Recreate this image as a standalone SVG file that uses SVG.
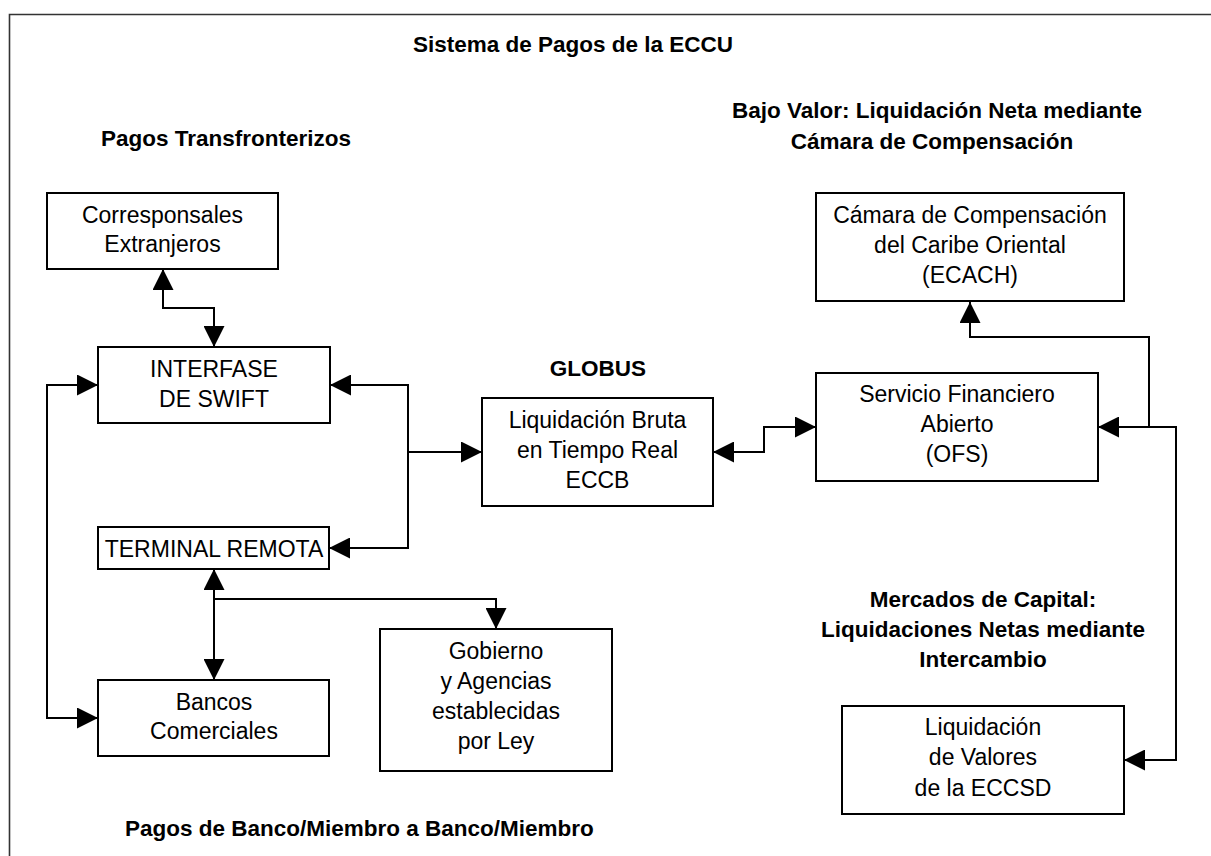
<svg xmlns="http://www.w3.org/2000/svg" width="1211" height="856" viewBox="0 0 1211 856">
<style>
.bg{fill:#ffffff}
.frame{fill:none;stroke:#333333;stroke-width:1.6}
.box{fill:#ffffff;stroke:#000000;stroke-width:2}
.t{font-family:"Liberation Sans",Arial,sans-serif;font-size:23px;fill:#000000;text-anchor:middle}
.h{font-family:"Liberation Sans",Arial,sans-serif;font-size:22.5px;font-weight:bold;fill:#000000;text-anchor:middle}
.c{fill:none;stroke:#000000;stroke-width:2;marker-end:url(#ah)}
.cb{marker-start:url(#ah)}
</style>
<defs>
<marker id="ah" markerUnits="userSpaceOnUse" viewBox="0 0 21 21" refX="21" refY="10.5" markerWidth="21" markerHeight="21" orient="auto-start-reverse">
<path d="M0,0 L21,10.5 L0,21 Z" fill="#000000"/>
</marker>
</defs>
<rect class="bg" x="0" y="0" width="1211" height="856"/>
<path class="frame" d="M9.5,856 V14.5 H1211"/>

<g id="labels">
<text class="h" x="573" y="52">Sistema de Pagos de la ECCU</text>
<text class="h" x="226" y="146">Pagos Transfronterizos</text>
<text class="h" x="937" y="118">Bajo Valor: Liquidación Neta mediante</text>
<text class="h" x="932" y="149">Cámara de Compensación</text>
<text class="h" x="598" y="376">GLOBUS</text>
<text class="h" x="983" y="607">Mercados de Capital:</text>
<text class="h" x="983" y="637">Liquidaciones Netas mediante</text>
<text class="h" x="983" y="667">Intercambio</text>
<text class="h" x="125" y="836" style="text-anchor:start">Pagos de Banco/Miembro a Banco/Miembro</text>
</g>

<g id="connectors">
<path class="c cb" d="M163,269 V308 H214 V347"/>
<path class="c cb" d="M98,385 H47 V718 H98"/>
<path class="c cb" d="M330,385 H408 V548 H329"/>
<path class="c" d="M408,452 H482"/>
<path class="c cb" d="M713,452 H764 V427 H816"/>
<path class="c cb" d="M1098,427 H1176 V760 H1124"/>
<path class="c" d="M1149,427 V337 H970 V302"/>
<path class="c cb" d="M214,569 V680"/>
<path class="c" d="M214,599 H496 V629"/>
</g>

<g id="corresponsales">
<rect class="box" x="47" y="193" width="231" height="76"/>
<text class="t" x="162.5" y="223">Corresponsales</text>
<text class="t" x="162.5" y="252">Extranjeros</text>
</g>

<g id="swift">
<rect class="box" x="98" y="347" width="232" height="76"/>
<text class="t" x="214" y="377">INTERFASE</text>
<text class="t" x="214" y="407">DE SWIFT</text>
</g>

<g id="terminal">
<rect class="box" x="98" y="527" width="231" height="42"/>
<text class="t" x="214" y="557">TERMINAL REMOTA</text>
</g>

<g id="bancos">
<rect class="box" x="98" y="680" width="231" height="76"/>
<text class="t" x="214" y="710">Bancos</text>
<text class="t" x="214" y="739">Comerciales</text>
</g>

<g id="gobierno">
<rect class="box" x="380" y="629" width="232" height="142"/>
<text class="t" x="496" y="659">Gobierno</text>
<text class="t" x="496" y="689">y Agencias</text>
<text class="t" x="496" y="719">establecidas</text>
<text class="t" x="496" y="749">por Ley</text>
</g>

<g id="rtgs">
<rect class="box" x="482" y="398" width="231" height="108"/>
<text class="t" x="597.5" y="428">Liquidación Bruta</text>
<text class="t" x="597.5" y="458">en Tiempo Real</text>
<text class="t" x="597.5" y="488">ECCB</text>
</g>

<g id="ofs">
<rect class="box" x="816" y="373" width="282" height="108"/>
<text class="t" x="957" y="402">Servicio Financiero</text>
<text class="t" x="957" y="432">Abierto</text>
<text class="t" x="957" y="462">(OFS)</text>
</g>

<g id="ecach">
<rect class="box" x="816" y="193" width="308" height="108"/>
<text class="t" x="970" y="223">Cámara de Compensación</text>
<text class="t" x="970" y="253">del Caribe Oriental</text>
<text class="t" x="970" y="283">(ECACH)</text>
</g>

<g id="eccsd">
<rect class="box" x="842" y="706" width="282" height="108"/>
<text class="t" x="983" y="735">Liquidación</text>
<text class="t" x="983" y="765">de Valores</text>
<text class="t" x="983" y="796">de la ECCSD</text>
</g>
</svg>
